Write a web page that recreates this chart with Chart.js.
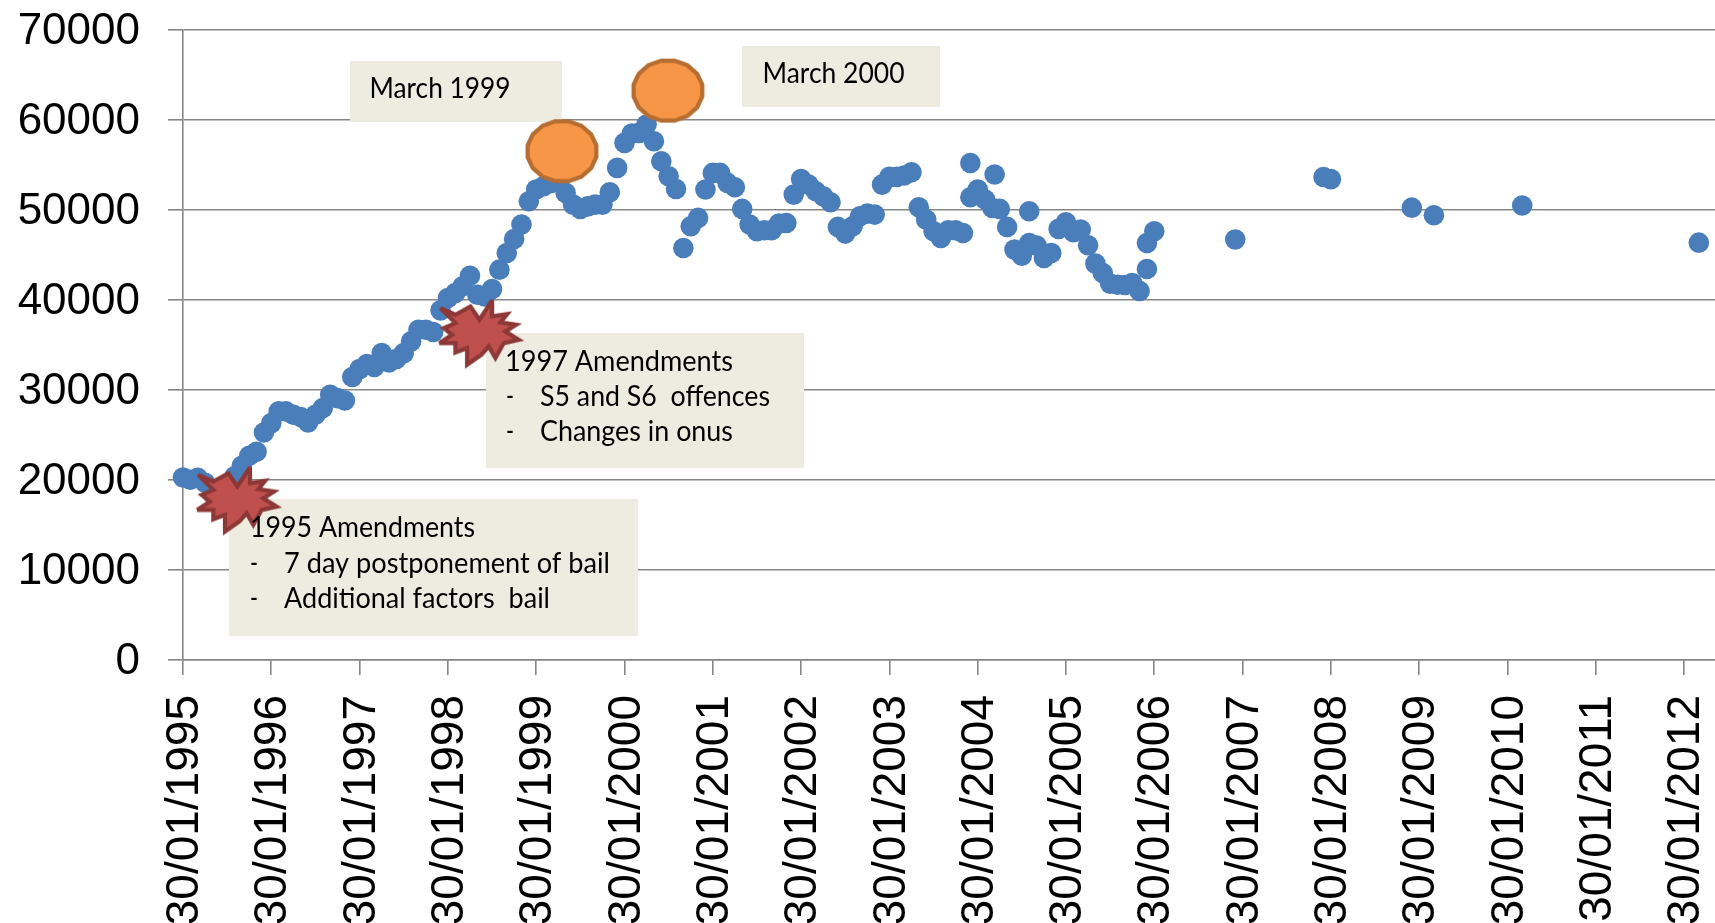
<!DOCTYPE html>
<html>
<head>
<meta charset="utf-8">
<style>html,body{margin:0;padding:0;background:#fff;overflow:hidden}#w{position:relative;width:1715px;height:923px}</style>
<script src="https://cdn.jsdelivr.net/npm/chart.js@4/dist/chart.umd.min.js"></script>
</head>
<body>
<div id="w"><canvas id="c" width="1715" height="923"></canvas></div>
<script>
// months since 30/01/1995
const months = [0,1,2,3,4,5,6,7,8,9,10,11,12,13,14,15,16,17,18,19,20,21,22,23,24,25,26,27,28,29,30,31,32,33,34,35,36,37,38,39,40,41,42,43,44,45,46,47,48,49,50,51,52,53,54,55,56,57,58,59,60,61,62,63,64,65,66,67,68,69,70,71,72,73,74,75,76,77,78,79,80,81,82,83,84,85,86,87,88,89,90,91,92,93,94,95,96,97,98,99,100,101,102,103,104,105,106,107,107,108,109,110,110.3,111,112,113,114,115,115,116,117,118,119,120,121,122,123,124,125,126,127,128,129,130,131,131,132,143,155,156,167,170,182,206];
const offences = [20270,20020,20240,19700,18500,18400,18800,20400,21570,22690,23130,25280,26320,27620,27620,27250,26990,26390,27250,27990,29470,29100,28840,31440,32320,32880,32550,34100,33070,33440,34100,35400,36700,36700,36440,38850,40220,40780,41520,42700,40590,40400,41220,43370,45220,46780,48380,50970,52270,52640,53000,53500,51900,50600,50120,50400,50600,50600,51970,54680,57460,58500,58570,59500,57640,55420,53750,52340,45780,48190,49120,52270,54120,54120,53010,52530,50120,48380,47640,47750,47750,48490,48560,51710,53450,52820,52080,51530,50860,48120,47380,48190,49300,49600,49490,52820,53680,53680,53830,54200,50300,48930,47640,46900,47750,47750,47450,55230,51420,52270,51160,50230,53940,50120,48120,45600,44930,46340,49860,46040,44670,45230,47900,48640,47530,47820,46080,44040,43000,41820,41700,41670,41890,41000,43450,46340,47640,46730,53670,53430,50260,49410,50500,46370];
const amendmentMonths = [7.2,40.1];
const amendmentValues = [18160,36700];
const peakMonths = [51.5,65.9];
const peakValues = [56530,63270];
const tickLabels = ["30/01/1995","30/01/1996","30/01/1997","30/01/1998","30/01/1999","30/01/2000","30/01/2001","30/01/2002","30/01/2003","30/01/2004","30/01/2005","30/01/2006","30/01/2007","30/01/2008","30/01/2009","30/01/2010","30/01/2011","30/01/2012"];
const yTicks = [0,10000,20000,30000,40000,50000,60000,70000];

// call-out boxes: pixel rectangle, then text rows [x, y, width, text]
const callouts = [
 {box:[350,61,212,61], rows:[[369.5,88.5,141,"March 1999"]]},
 {box:[742,46,198,61], rows:[[762.5,73.5,142,"March 2000"]]},
 {box:[486,333,318,135], rows:[[505,361.5,228,"1997 Amendments"],[506,396.5,8,"-"],[540,396.5,230,"S5 and S6  offences"],[506,431.5,8,"-"],[540,431.5,193,"Changes in onus"]]},
 {box:[229,499,409,137], rows:[[250,527.5,225,"1995 Amendments"],[250,563.5,8,"-"],[284,563.5,326,"7 day postponement of bail"],[250,598.5,8,"-"],[284,598.5,266,"Additional factors  bail"]]}
];

function explosion(){
  const tips=[[-113,-65],[-68,-45],[-23,-70],[4,-30],[42,-88],[42,-40],[87,-47],[67,-22],[114,-15],[82,5],[122,30],[77,40],[52,85],[32,50],[10,75],[-33,105],[-33,55],[-68,68],[-68,40],[-116,40],[-78,15],[-103,-5],[-68,-20]];
  const c=document.createElement('canvas');c.width=110;c.height=96;const g=c.getContext('2d');
  g.translate(55,48);g.beginPath();
  tips.forEach((p,i)=>{const x=p[0]/3,y=p[1]/3;i?g.lineTo(x,y):g.moveTo(x,y);});
  g.closePath();g.fillStyle='#C0504D';g.fill();g.strokeStyle='#8C3836';g.lineWidth=4.2;g.lineJoin='miter';g.miterLimit=3;g.stroke();
  return c;
}
function dodecagon(){
  const c=document.createElement('canvas');c.width=80;c.height=72;const g=c.getContext('2d');
  g.translate(40,36);g.beginPath();
  for(let i=0;i<16;i++){const a=(i+0.5)*Math.PI/8;const x=35*Math.cos(a),y=30.5*Math.sin(a);i?g.lineTo(x,y):g.moveTo(x,y);}
  g.closePath();g.fillStyle='#F79646';g.fill();g.strokeStyle='#B66D31';g.lineWidth=4.2;g.stroke();
  return c;
}
const pts=(xs,ys)=>xs.map((x,i)=>({x:x,y:ys[i]}));

const FONT='28px Lato';
const calloutPlugin={
  id:'callouts',
  beforeDatasetsDraw(ch){
    const g=ch.ctx;g.save();g.fillStyle='#EEECE1';
    callouts.forEach(c=>g.fillRect(c.box[0],c.box[1],c.box[2],c.box[3]));
    g.restore();
  },
  afterDatasetsDraw(ch){
    const g=ch.ctx;g.save();g.font=FONT;g.fillStyle='#000';g.textBaseline='middle';g.textAlign='left';
    callouts.forEach(c=>c.rows.forEach(r=>g.fillText(r[3],r[0],r[1],r[2])));
    g.restore();
  }
};

new Chart(document.getElementById('c'),{
  type:'scatter',
  plugins:[calloutPlugin],
  data:{datasets:[
    {label:'Peaks',data:pts(peakMonths,peakValues),pointStyle:dodecagon(),pointRadius:36,order:0,clip:false},
    {label:'Amendments',data:pts(amendmentMonths,amendmentValues),pointStyle:explosion(),pointRadius:40,order:1,clip:false},
    {label:'Offences',data:pts(months,offences),pointStyle:'circle',pointRadius:10.3,pointBackgroundColor:'#4A7EBB',pointBorderColor:'#4A7EBB',pointBorderWidth:0,order:2,clip:false}
  ]},
  options:{
    responsive:false,animation:false,
    layout:{autoPadding:false,padding:{top:30,left:0,right:0,bottom:0}},
    plugins:{legend:{display:false},tooltip:{enabled:false},title:{display:false}},
    scales:{
      x:{type:'linear',min:0,max:208.2,
        afterBuildTicks(s){s.ticks=tickLabels.map((_,i)=>({value:i*12}));},
        afterFit(s){s.height=263;s.paddingLeft=0;s.paddingRight=0;},
        grid:{display:true,drawOnChartArea:false,color:'#868686',lineWidth:1.6,tickLength:15},
        border:{display:true,color:'#868686',width:1.6},
        ticks:{autoSkip:false,minRotation:90,maxRotation:90,padding:20,labelOffset:2.5,color:'#000',font:{family:'"Liberation Sans"',size:46},
          callback(v){return tickLabels[Math.round(v/12)];}}
      },
      y:{type:'linear',min:0,max:70000,
        afterBuildTicks(s){s.ticks=yTicks.map(v=>({value:v}));},
        afterFit(s){s.width=183;s.paddingTop=0;s.paddingBottom=0;},
        grid:{display:true,color:'#868686',lineWidth:1.6,tickLength:15},
        border:{display:true,color:'#868686',width:1.6},
        ticks:{padding:28,labelOffset:1.5,color:'#000',font:{family:'"Liberation Sans"',size:44},callback(v){return String(v);}}
      }
    }
  }
});
</script>
</body>
</html>
